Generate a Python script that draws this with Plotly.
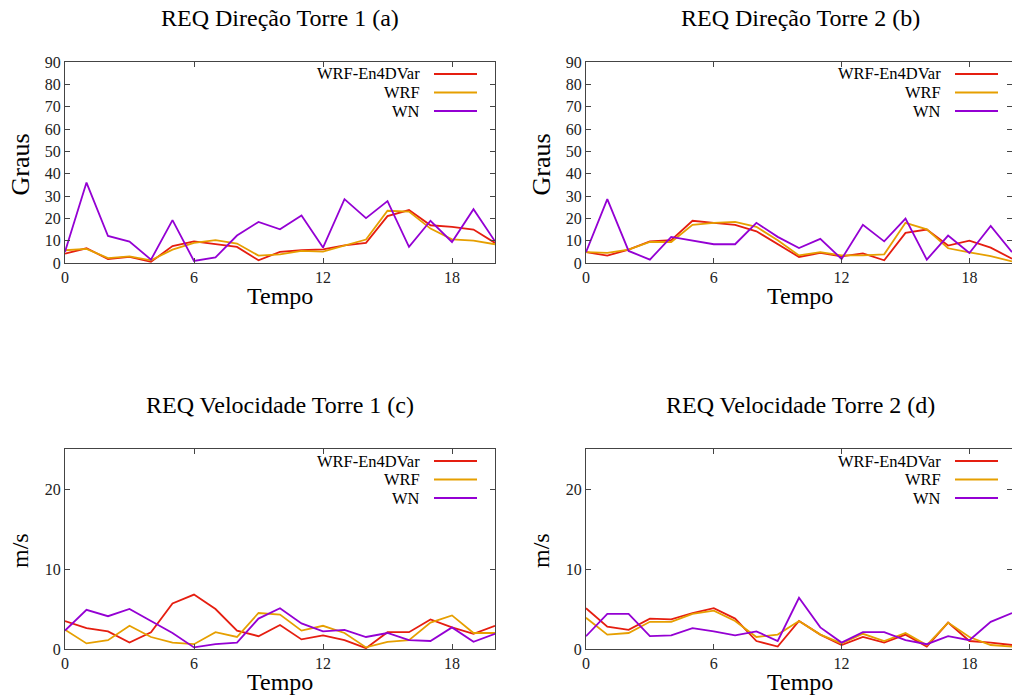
import plotly.graph_objects as go

W, H = 1012, 695
tempo = list(range(21))

# (a) Direção Torre 1
dir1_en4dvar = [4.2, 6.6, 1.8, 2.7, 0.5, 7.6, 9.7, 8.4, 7.2, 1.2, 5.0, 5.7, 6.1, 7.9, 9.0, 21.0, 23.7, 16.9, 16.2, 15.0, 9.0]
dir1_wrf     = [5.7, 6.3, 2.2, 3.0, 1.2, 6.0, 9.0, 10.2, 8.7, 3.3, 3.9, 5.4, 5.1, 7.9, 10.5, 23.4, 23.0, 15.4, 10.6, 10.0, 8.4]
dir1_wn      = [5.0, 36.0, 12.1, 9.6, 1.5, 19.2, 0.9, 2.5, 12.3, 18.4, 15.1, 21.3, 6.9, 28.6, 20.1, 27.7, 7.2, 18.9, 9.4, 24.1, 9.7]
# (b) Direção Torre 2
dir2_en4dvar = [4.9, 3.3, 6.0, 9.7, 10.2, 18.9, 18.0, 17.1, 14.2, 8.4, 2.7, 4.5, 3.0, 4.3, 1.2, 13.5, 15.0, 7.8, 10.0, 6.9, 1.9]
dir2_wrf     = [4.9, 4.5, 6.0, 9.4, 9.4, 17.1, 18.0, 18.4, 16.2, 10.2, 3.4, 4.9, 3.4, 3.4, 3.9, 18.0, 15.1, 6.6, 4.8, 3.1, 0.7]
dir2_wn      = [4.9, 28.6, 5.4, 1.5, 11.7, 9.9, 8.4, 8.4, 18.0, 11.7, 6.7, 10.8, 1.8, 17.1, 9.7, 19.9, 1.5, 12.3, 4.5, 16.6, 4.9]
# (c) Velocidade Torre 1
vel1_en4dvar = [3.5, 2.6, 2.2, 0.8, 2.1, 5.7, 6.8, 5.0, 2.3, 1.6, 3.0, 1.2, 1.7, 1.1, 0.1, 2.1, 2.1, 3.7, 2.7, 1.9, 2.9]
vel1_wrf     = [2.4, 0.7, 1.1, 2.9, 1.5, 0.8, 0.6, 2.1, 1.5, 4.5, 4.3, 2.3, 2.9, 2.0, 0.2, 0.9, 1.1, 3.3, 4.2, 2.0, 2.0]
vel1_wn      = [2.3, 4.9, 4.1, 5.0, 3.5, 2.0, 0.2, 0.6, 0.8, 3.8, 5.1, 3.2, 2.2, 2.4, 1.5, 2.0, 1.1, 1.0, 2.7, 0.9, 1.9]
# (d) Velocidade Torre 2
vel2_en4dvar = [5.1, 2.8, 2.4, 3.8, 3.7, 4.5, 5.1, 3.8, 1.0, 0.3, 3.5, 1.8, 0.5, 1.5, 0.8, 1.8, 0.3, 3.3, 1.0, 0.8, 0.5]
vel2_wrf     = [3.9, 1.8, 2.0, 3.4, 3.4, 4.4, 4.8, 3.5, 1.5, 1.8, 3.5, 1.8, 0.7, 1.9, 1.0, 2.0, 0.5, 3.3, 1.5, 0.5, 0.3]
vel2_wn      = [1.6, 4.4, 4.4, 1.6, 1.7, 2.6, 2.2, 1.7, 2.2, 1.0, 6.4, 2.7, 0.8, 2.1, 2.1, 1.1, 0.6, 1.6, 1.1, 3.4, 4.5]

series_names = ["WRF-En4DVar", "WRF", "WN"]
colors = ["#e51e10", "#e69f00", "#9400d3"]
titles = ["REQ Direção Torre 1 (a)", "REQ Direção Torre 2 (b)",
          "REQ Velocidade Torre 1 (c)", "REQ Velocidade Torre 2 (d)"]
ylabels = ["Graus", "Graus", "m/s", "m/s"]
xticks = [0, 6, 12, 18]
dir_ticks = [0, 10, 20, 30, 40, 50, 60, 70, 80, 90]
vel_ticks = [0, 10, 20]

panels = [
    (dir1_en4dvar, dir1_wrf, dir1_wn),
    (dir2_en4dvar, dir2_wrf, dir2_wn),
    (vel1_en4dvar, vel1_wrf, vel1_wn),
    (vel2_en4dvar, vel2_wrf, vel2_wn),
]

def px(x):
    return x / W

def py(y):
    return 1 - y / H

# pixel boxes of plot areas: (left, right, top, bottom)
boxes = [(65, 495, 62, 263), (586, 1012, 62, 263),
         (65, 495, 449, 649), (586, 1012, 449, 649)]
yranges = [[0, 90], [0, 90], [0, 25], [0, 25]]
ytickvals = [dir_ticks, dir_ticks, vel_ticks, vel_ticks]

FONT = "Liberation Serif, Times New Roman, serif"
AXC = "#444444"

fig = go.Figure()
layout = dict(
    width=W, height=H,
    margin=dict(l=0, r=0, t=0, b=0),
    paper_bgcolor="white", plot_bgcolor="white",
    showlegend=False,
    font=dict(family=FONT, color="black"),
)
annotations = []
shapes = []

for i, (data, box, yr, yt) in enumerate(zip(panels, boxes, yranges, ytickvals)):
    n = "" if i == 0 else str(i + 1)
    l, r, t, b = box
    for s, (vals, name, col) in enumerate(zip(data, series_names, colors)):
        fig.add_trace(go.Scatter(
            x=tempo, y=vals, mode="lines", name=name,
            line=dict(color=col, width=1.8),
            xaxis="x" + n, yaxis="y" + n, showlegend=False,
            cliponaxis=True,
        ))
    common = dict(showline=True, linecolor=AXC, linewidth=1.2, mirror="ticks",
                  ticks="inside", ticklen=5, tickcolor=AXC, tickwidth=1,
                  showgrid=False, zeroline=False, automargin=False,
                  tickfont=dict(family=FONT, size=16, color="#222"))
    layout["xaxis" + n] = dict(domain=[px(l), px(r)], range=[0, 20],
                               tickvals=xticks, anchor="y" + n, **common)
    layout["yaxis" + n] = dict(domain=[py(b), py(t)], range=yr,
                               tickvals=yt, anchor="x" + n, **common)
    cx = (l + min(r, 1014)) / 2 if i % 2 == 0 else 800
    # title
    annotations.append(dict(text=titles[i], x=px(cx), y=py(t - 44), xref="paper", yref="paper",
                            showarrow=False, xanchor="center", yanchor="middle",
                            font=dict(family=FONT, size=24, color="black")))
    # x label
    annotations.append(dict(text="Tempo", x=px(cx), y=py(b + 33), xref="paper", yref="paper",
                            showarrow=False, xanchor="center", yanchor="middle",
                            font=dict(family=FONT, size=24, color="black")))
    # y label
    annotations.append(dict(text=ylabels[i], x=px(l - 45), y=py((t + b) / 2 + 2), xref="paper", yref="paper",
                            showarrow=False, xanchor="center", yanchor="middle", textangle=-90,
                            font=dict(family=FONT, size=26 if i < 2 else 24, color="black")))
    # legend (text right-aligned, sample line on the right)
    text_right = l + 357
    line_l, line_r = l + 369, l + 412
    row0 = t + 12
    for s, (name, col) in enumerate(zip(series_names, colors)):
        yy = row0 + s * 18.5
        annotations.append(dict(text=name, x=px(text_right), y=py(yy), xref="paper", yref="paper",
                                showarrow=False, xanchor="right", yanchor="middle",
                                font=dict(family=FONT, size=16.5, color="black")))
        shapes.append(dict(type="line", xref="paper", yref="paper",
                           x0=px(line_l), x1=px(line_r), y0=py(yy), y1=py(yy),
                           line=dict(color=col, width=1.8)))

layout["annotations"] = annotations
layout["shapes"] = shapes
fig.update_layout(**layout)
fig.write_html("out.html")
